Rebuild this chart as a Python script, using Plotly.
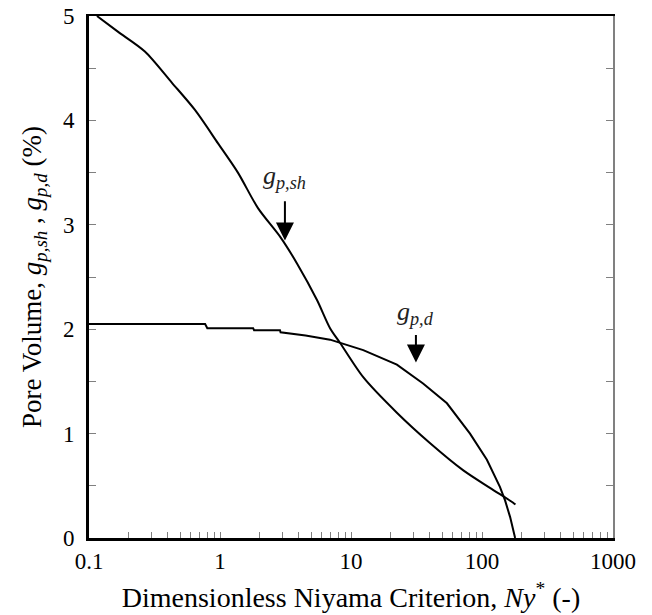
import math
import plotly.graph_objects as go

# g_p,sh curve (shrinkage porosity)
sh_x = [0.115, 0.166, 0.267, 0.43, 0.644, 0.966, 1.37, 1.95, 2.9, 3.87, 5.5, 6.92, 8.24, 12.4, 22.4, 40, 71.6, 115, 172, 180]
sh_y = [5.0, 4.85, 4.66, 4.36, 4.10, 3.78, 3.50, 3.16, 2.88, 2.63, 2.28, 2.01, 1.87, 1.54, 1.20, 0.91, 0.65, 0.48, 0.34, 0.32]

# g_p,d curve
d_x = [0.1, 0.77, 0.80, 1.79, 1.82, 2.87, 2.9, 4.5, 6.92, 12.4, 22.4, 35.5, 54, 81, 109, 137, 150, 164, 179]
d_y = [2.05, 2.05, 2.01, 2.01, 1.99, 1.99, 1.97, 1.94, 1.90, 1.80, 1.66, 1.48, 1.29, 1.0, 0.75, 0.49, 0.36, 0.20, 0.0]

x_major = [0.1, 1, 10, 100, 1000]
x_major_labels = ["0.1", "1", "10", "100", "1000"]
y_major = [0, 1, 2, 3, 4, 5]

# annotation positions (data units)
sh_arrow = dict(x=3.13, tail=3.24, tip=2.85, label=3.46)
d_arrow = dict(x=31.3, tail=1.96, tip=1.68, label=2.16)

x_ticks = []
x_text = []
for i, m in enumerate(x_major[:-1]):
    for k in range(1, 10):
        x_ticks.append(m * k)
        x_text.append(x_major_labels[i] if k == 1 else "")
x_ticks.append(x_major[-1])
x_text.append(x_major_labels[-1])

font_family = "Liberation Serif, Times New Roman, DejaVu Serif, serif"
fig = go.Figure()
fig.add_trace(go.Scatter(x=sh_x, y=sh_y, mode="lines", line=dict(color="black", width=2, shape="spline", smoothing=0.8), showlegend=False))
fig.add_trace(go.Scatter(x=d_x, y=d_y, mode="lines", line=dict(color="black", width=2), showlegend=False))
# invisible trace to anchor mirror axes
fig.add_trace(go.Scatter(x=[0.1], y=[0], xaxis="x2", yaxis="y2", mode="markers",
                         marker=dict(opacity=0), showlegend=False, hoverinfo="skip"))

for arr, txt in [(sh_arrow, "<i>g</i><sub><i>p,sh</i></sub>"), (d_arrow, "<i>g</i><sub><i>p,d</i></sub>")]:
    lx = math.log10(arr["x"])
    fig.add_annotation(x=lx, y=arr["tip"], ax=lx, ay=arr["tail"], xref="x", yref="y",
                       axref="x", ayref="y", showarrow=True, arrowhead=2, arrowsize=1.8,
                       arrowwidth=2, arrowcolor="black", text="")
    fig.add_annotation(x=lx, y=arr["label"], xref="x", yref="y", showarrow=False,
                       text=txt, font=dict(family=font_family, size=26, color="#222"))

fig.update_layout(
    template="none",
    width=652, height=615,
    margin=dict(l=89, r=39, t=16, b=77),
    plot_bgcolor="white", paper_bgcolor="white",
    font=dict(family=font_family, size=23, color="black"),
    xaxis=dict(type="log", range=[-1, 3], showline=True, linecolor="black", linewidth=3,
               tickvals=x_ticks, ticktext=x_text, ticks="inside", ticklen=6, tickcolor="gray",
               tickwidth=1, showgrid=False, zeroline=False,
               tickfont=dict(family=font_family, size=23),
               title=dict(text="Dimensionless Niyama Criterion, <i>Ny</i><sup>*</sup> (-)",
                          font=dict(family=font_family, size=28), standoff=15)),
    yaxis=dict(range=[0, 5], showline=True, linecolor="black", linewidth=3,
               tickvals=y_major, ticks="inside", ticklen=7, tickcolor="gray", tickwidth=1,
               ticklabelstandoff=7,
               minor=dict(dtick=0.5, ticks="inside", ticklen=7, tickcolor="gray", showgrid=False),
               showgrid=False, zeroline=False,
               tickfont=dict(family=font_family, size=23),
               title=dict(text="Pore Volume, <i>g</i><sub><i>p,sh</i></sub> , <i>g</i><sub><i>p,d</i></sub> (%)",
                          font=dict(family=font_family, size=27), standoff=14)),
    xaxis2=dict(type="log", range=[-1, 3], overlaying="x", side="top", showline=True,
                linecolor="black", linewidth=2, ticks="", showticklabels=False,
                showgrid=False, zeroline=False),
    yaxis2=dict(range=[0, 5], overlaying="y", side="right", showline=True, linecolor="gray",
                linewidth=2, ticks="inside", ticklen=7, tickcolor="gray", dtick=0.5,
                showticklabels=False, showgrid=False, zeroline=False),
)
fig.write_html("out.html", config={"displayModeBar": False},
               post_script="document.body.style.margin='0';")
